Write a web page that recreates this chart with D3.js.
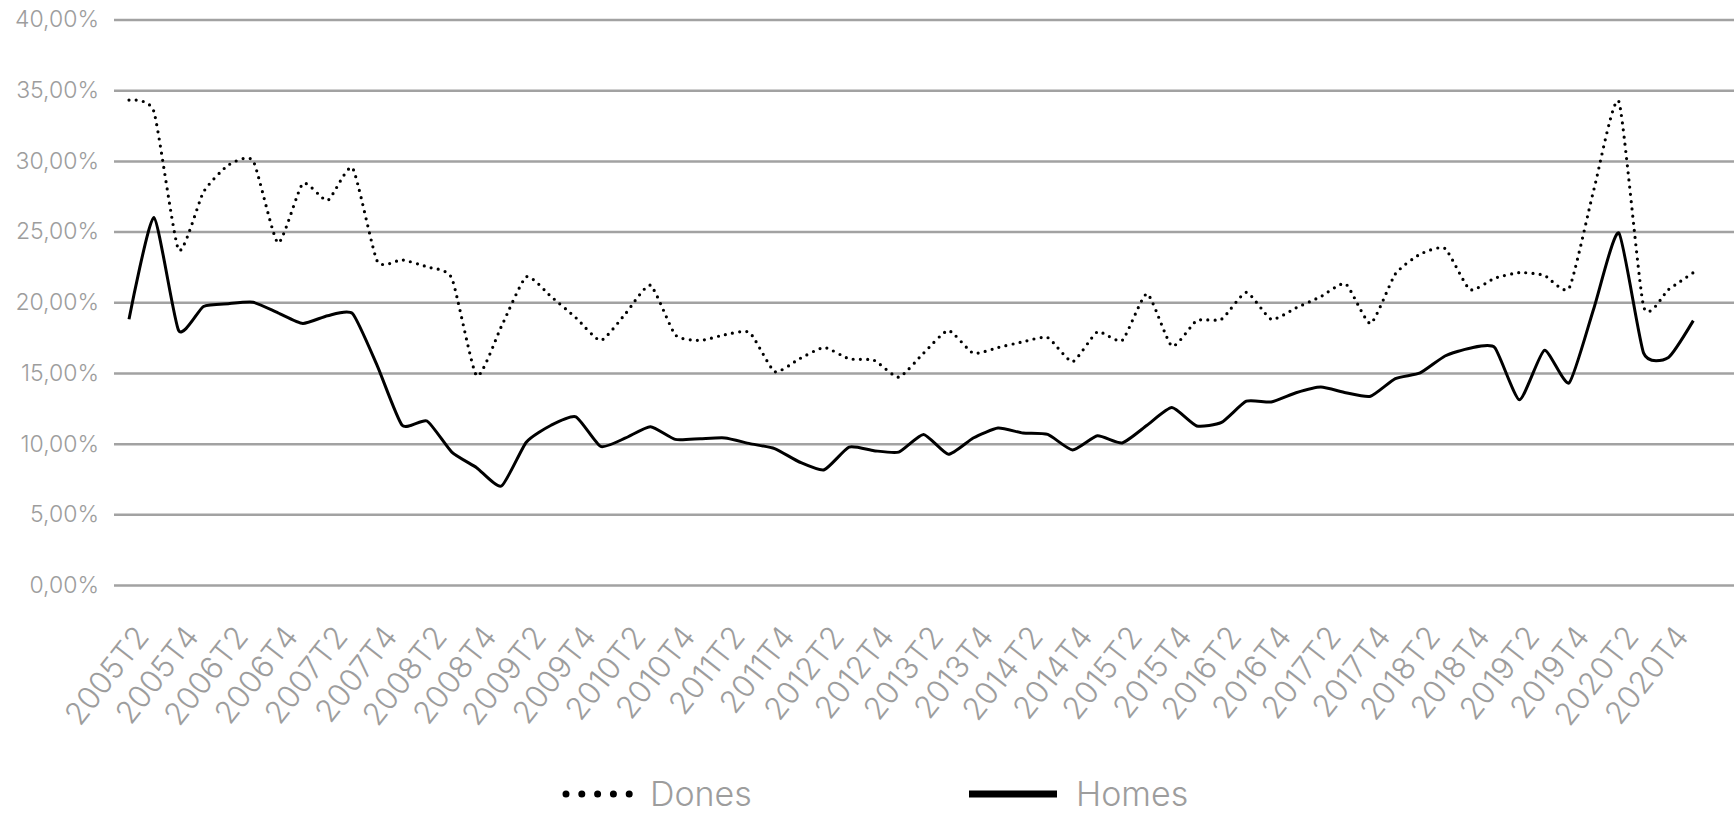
<!DOCTYPE html>
<html>
<head>
<meta charset="utf-8">
<script src="https://cdn.jsdelivr.net/npm/d3@7"></script>
<style>
  html, body { margin: 0; padding: 0; background: #ffffff; }
  svg { display: block; font-family: Inter, "Liberation Sans", Arial, sans-serif; font-weight: 300; }
</style>
</head>
<body>
<svg id="chart" width="1734" height="813"></svg>
<script>
// ---- data ----
const quarters = [
  "2005T2","2005T3","2005T4","2006T1","2006T2","2006T3","2006T4","2007T1",
  "2007T2","2007T3","2007T4","2008T1","2008T2","2008T3","2008T4","2009T1",
  "2009T2","2009T3","2009T4","2010T1","2010T2","2010T3","2010T4","2011T1",
  "2011T2","2011T3","2011T4","2012T1","2012T2","2012T3","2012T4","2013T1",
  "2013T2","2013T3","2013T4","2014T1","2014T2","2014T3","2014T4","2015T1",
  "2015T2","2015T3","2015T4","2016T1","2016T2","2016T3","2016T4","2017T1",
  "2017T2","2017T3","2017T4","2018T1","2018T2","2018T3","2018T4","2019T1",
  "2019T2","2019T3","2019T4","2020T1","2020T2","2020T3","2020T4","2021T1"
];
const dones = [
  34.3, 33.5, 23.7, 27.8, 29.7, 30.0, 24.2, 28.4,
  27.2, 29.5, 22.9, 23.0, 22.5, 21.7, 14.8, 18.3,
  21.8, 20.4, 18.9, 17.3, 19.2, 21.2, 17.7, 17.3,
  17.7, 17.85, 15.1, 16.0, 16.8, 16.0, 15.9, 14.7,
  16.4, 18.0, 16.4, 16.8, 17.2, 17.5, 15.8, 17.9,
  17.3, 20.6, 16.9, 18.7, 18.8, 20.7, 18.8, 19.6,
  20.4, 21.3, 18.5, 22.0, 23.4, 23.8, 20.9, 21.7,
  22.1, 21.9, 21.0, 28.0, 34.2, 19.7, 20.9, 22.1
];
const homes = [
  18.8, 26.0, 18.0, 19.7, 19.9, 20.0, 19.25, 18.5,
  19.05, 19.2, 15.5, 11.3, 11.6, 9.4, 8.3, 7.0,
  10.1, 11.3, 11.9, 9.8, 10.4, 11.2, 10.3, 10.35,
  10.4, 10.0, 9.65, 8.7, 8.15, 9.75, 9.5, 9.4,
  10.65, 9.25, 10.4, 11.1, 10.75, 10.65, 9.55, 10.55,
  10.05, 11.3, 12.55, 11.25, 11.5, 13.0, 12.95, 13.6,
  14.0, 13.6, 13.35, 14.6, 15.0, 16.2, 16.75, 16.8,
  13.1, 16.6, 14.3, 19.6, 24.9, 16.4, 16.1, 18.7
];
const yTicks = [0, 5, 10, 15, 20, 25, 30, 35, 40];
const xTickLabels = quarters.filter((q, i) => i % 2 === 0);
const seriesNames = ["Dones", "Homes"];

// ---- layout ----
const gridLeft = 114, gridRight = 1734;
const svg = d3.select("#chart");

const x = d3.scalePoint().domain(quarters).range([129, 1693.3]);
const y = d3.scaleLinear().domain([0, 40]).range([585, 19.5]);

const locale = d3.formatLocale({decimal: ",", thousands: ".", grouping: [3], currency: ["", "€"]});
const fmt = locale.format(".2f");

const labelColor = "#9d9d9d";
const gridColor = "#a2a2a2";
const fontStack = "Inter, 'Liberation Sans', Arial, sans-serif";

// y axis + gridlines
const yAxis = d3.axisLeft(y)
  .tickValues(yTicks)
  .tickSize(-(gridRight - gridLeft))
  .tickPadding(15)
  .tickFormat(d => fmt(d) + "%");
const gy = svg.append("g")
  .attr("transform", `translate(${gridLeft},0)`)
  .call(yAxis);
gy.select(".domain").remove();
gy.selectAll(".tick line").attr("stroke", gridColor).attr("stroke-width", 2.5);
gy.selectAll(".tick text")
  .attr("fill", labelColor)
  .style("font-size", "23px")
  .style("font-weight", 300)
  .style("font-family", fontStack);

// x axis labels
const xAxis = d3.axisBottom(x).tickValues(xTickLabels).tickSize(0);
const gx = svg.append("g")
  .attr("transform", `translate(0,${y(0)})`)
  .call(xAxis);
gx.select(".domain").remove();
gx.selectAll(".tick text")
  .attr("x", 0).attr("y", 0).attr("dy", 0)
  .attr("text-anchor", "end")
  .attr("transform", "translate(21,52) rotate(-52)")
  .attr("fill", labelColor)
  .style("font-size", "31px")
  .style("font-weight", 300)
  .style("font-family", fontStack);

// lines
const line = d3.line()
  .x((d, i) => x(quarters[i]))
  .y(d => y(d))
  .curve(d3.curveCardinal.tension(0.45));

svg.append("path")
  .datum(dones)
  .attr("d", line)
  .attr("fill", "none")
  .attr("stroke", "#000")
  .attr("stroke-width", 3.2)
  .attr("stroke-linecap", "round")
  .attr("stroke-dasharray", "0 7.2");

svg.append("path")
  .datum(homes)
  .attr("d", line)
  .attr("fill", "none")
  .attr("stroke", "#000")
  .attr("stroke-width", 3)
  .attr("stroke-linejoin", "miter");

// legend
const leg = svg.append("g");
const legY = 794;
leg.append("line")
  .attr("x1", 566).attr("x2", 631).attr("y1", legY).attr("y2", legY)
  .attr("stroke", "#000").attr("stroke-width", 7)
  .attr("stroke-linecap", "round").attr("stroke-dasharray", "0 15.8");
leg.append("text")
  .attr("x", 650).attr("y", legY).attr("dy", "0.35em")
  .attr("fill", labelColor).style("font-size", "34px").style("font-weight", 300)
  .text(seriesNames[0]);
leg.append("line")
  .attr("x1", 969).attr("x2", 1057).attr("y1", legY).attr("y2", legY)
  .attr("stroke", "#000").attr("stroke-width", 7);
leg.append("text")
  .attr("x", 1076).attr("y", legY).attr("dy", "0.35em")
  .attr("fill", labelColor).style("font-size", "34px").style("font-weight", 300)
  .text(seriesNames[1]);
</script>
</body>
</html>
